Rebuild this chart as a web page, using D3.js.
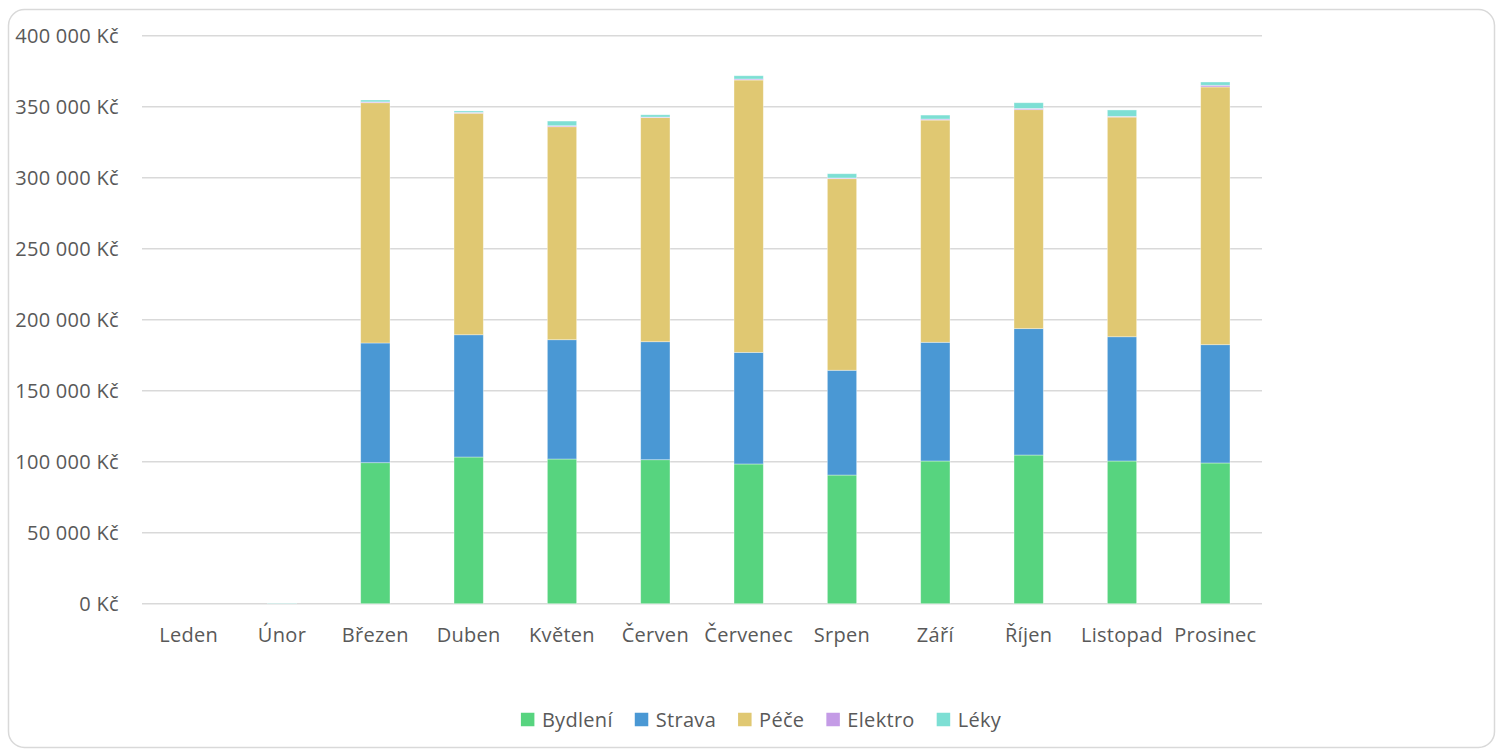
<!DOCTYPE html>
<html>
<head>
<meta charset="utf-8">
<script src="https://cdn.jsdelivr.net/npm/d3@7"></script>
<style>
  html, body { margin: 0; padding: 0; background: #fff; }
  svg { display: block; }
  text { font-family: "Open Sans", "Noto Sans", sans-serif; fill: #595959; letter-spacing: 0.3px; }
</style>
</head>
<body>
<svg id="chart" width="1496" height="749"></svg>
<script>
const months = ["Leden", "Únor", "Březen", "Duben", "Květen", "Červen", "Červenec", "Srpen", "Září", "Říjen", "Listopad", "Prosinec"];
const seriesNames = ["Bydlení", "Strava", "Péče", "Elektro", "Léky"];
const bydleni = [0, 0, 99300, 103300, 101900, 101400, 98400, 90600, 100500, 104700, 100500, 99100];
const strava  = [0, 0, 84300, 86100, 84000, 83100, 78600, 73800, 83600, 89000, 87500, 83300];
const pece    = [0, 0, 169200, 156000, 150000, 157800, 191800, 134900, 156500, 154200, 154700, 181500];
const elektro = [0, 0, 600, 600, 700, 400, 700, 500, 700, 900, 500, 1200];
const leky    = [0, 300, 1300, 1000, 3300, 1600, 2300, 3000, 2800, 4000, 4500, 2300];
const yTicks = [0, 50000, 100000, 150000, 200000, 250000, 300000, 350000, 400000];
const colors = ["#57D47F", "#4A98D4", "#E0C872", "#C49BE6", "#7DDFD4"];

const seriesValues = [bydleni, strava, pece, elektro, leky];
const table = months.map((m, i) => {
  const row = { month: m };
  seriesNames.forEach((s, k) => row[s] = seriesValues[k][i]);
  return row;
});

const svg = d3.select("#chart");

// frame
svg.append("rect")
  .attr("x", 8.5).attr("y", 9.5).attr("width", 1486).attr("height", 738)
  .attr("rx", 16).attr("ry", 16)
  .attr("fill", "#fff").attr("stroke", "#d9d9d9").attr("stroke-width", 1.5);

const plotLeft = 142, plotRight = 1262, plotTop = 35.7, plotBottom = 603.7;

const x = d3.scaleBand().domain(months).range([plotLeft, plotRight]).paddingInner(0.686).paddingOuter(0.343);
const y = d3.scaleLinear().domain([0, 400000]).range([plotBottom, plotTop]);

const fmt = v => d3.format(",")(v).replace(/,/g, "\u00a0") + "\u00a0Kč";

// gridlines
svg.append("g").selectAll("line").data(yTicks).join("line")
  .attr("x1", plotLeft).attr("x2", plotRight)
  .attr("y1", d => y(d)).attr("y2", d => y(d))
  .attr("stroke", "#d9d9d9").attr("stroke-width", 1.5);

// y labels
svg.append("g").selectAll("text").data(yTicks).join("text")
  .attr("x", 119).attr("y", d => y(d)).attr("dy", "0.36em")
  .attr("text-anchor", "end").attr("font-size", 20)
  .text(fmt);

// stacked bars
const stack = d3.stack().keys(seriesNames);
const stacked = stack(table);
svg.append("g").selectAll("g").data(stacked).join("g")
  .attr("fill", (d, i) => colors[i])
  .selectAll("rect").data(d => d).join("rect")
  .attr("x", d => x(d.data.month))
  .attr("width", x.bandwidth())
  .attr("y", d => y(d[1]))
  .attr("height", d => Math.max(0, y(d[0]) - y(d[1])))
  .attr("stroke", "rgba(255,255,255,0.45)").attr("stroke-width", 0.8);

// x labels
svg.append("g").selectAll("text").data(months).join("text")
  .attr("x", d => x(d) + x.bandwidth() / 2).attr("y", 642)
  .attr("text-anchor", "middle").attr("font-size", 20)
  .text(d => d);

// legend
const legend = svg.append("g");
const items = legend.selectAll("g").data(seriesNames).join("g");
items.append("rect").attr("width", 13.5).attr("height", 13.5).attr("y", -6.75)
  .attr("fill", (d, i) => colors[i]);
items.append("text").attr("x", 21).attr("dy", "0.36em").attr("font-size", 20).text(d => d);
let pos = 0;
const gap = 22;
const offsets = [];
items.each(function() {
  const w = 21 + this.querySelector("text").getComputedTextLength();
  offsets.push(pos);
  pos += w + gap;
});
const totalW = pos - gap;
const startX = 761 - totalW / 2;
items.attr("transform", (d, i) => `translate(${startX + offsets[i]},719.5)`);
</script>
</body>
</html>
